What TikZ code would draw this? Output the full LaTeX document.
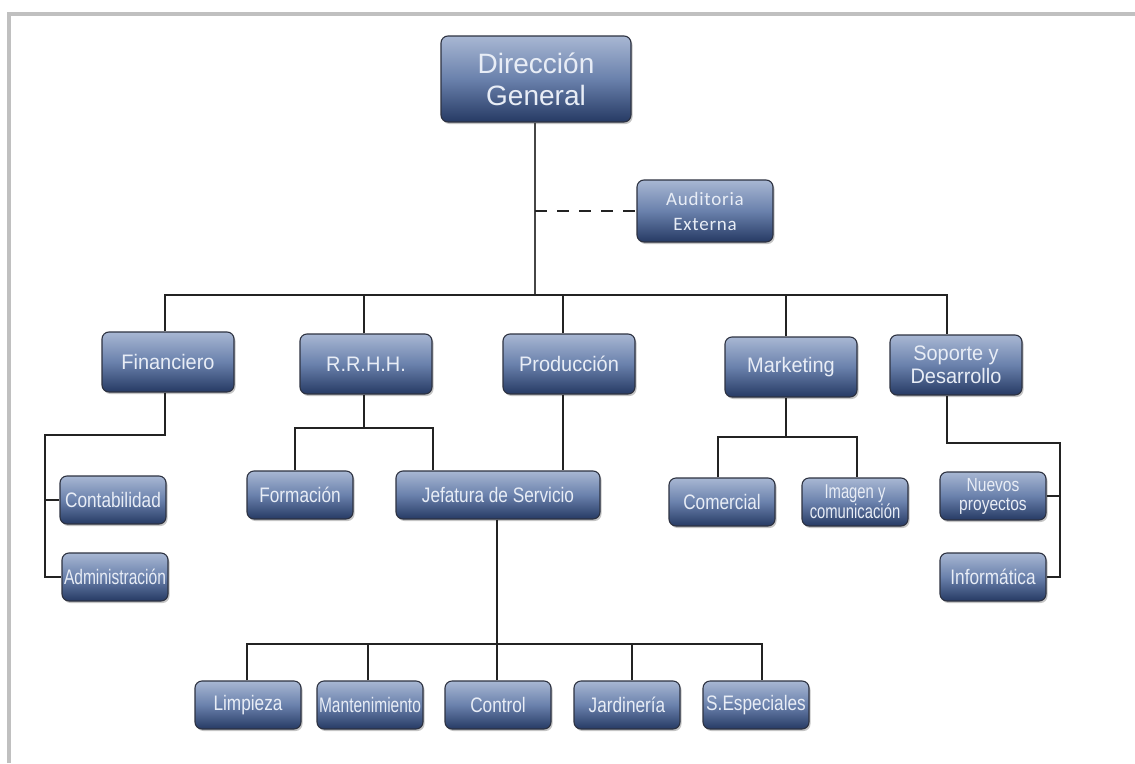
\documentclass[tikz,border=0pt]{standalone}
\usepackage{fontspec}
\setmainfont{Liberation Sans}
\newfontfamily\boxfont{Liberation Sans}
\newfontfamily\boxfontl[FakeStretch=0.95]{Liberation Sans}
\newfontfamily\boxfontn[FakeStretch=0.82]{Liberation Sans}
\newfontfamily\boxfontm[FakeStretch=0.74]{Liberation Sans}
\newfontfamily\audfont[LetterSpace=4]{Carlito}
\usetikzlibrary{shadows}
\definecolor{boxtop}{RGB}{168,183,211}
\definecolor{boxmid}{RGB}{106,129,172}
\definecolor{boxbot}{RGB}{38,58,100}
\definecolor{boxline}{RGB}{45,50,65}
\definecolor{boxtext}{RGB}{232,237,246}
\definecolor{linec}{RGB}{35,35,35}
\definecolor{trunkc}{RGB}{70,70,70}
\definecolor{framegray}{RGB}{192,192,192}
\begin{document}
\begin{tikzpicture}[x=1pt,y=-1pt,
  box/.style={rounded corners=7pt, draw=boxline, line width=1.1pt,
    top color=boxtop, bottom color=boxbot, middle color=boxmid,
    text=boxtext, align=center, inner sep=0pt,
    drop shadow={shadow xshift=1.5pt, shadow yshift=-2pt, opacity=0.45}},
  lvl/.style={box, minimum width=132pt, minimum height=60pt,
    font=\boxfontl\fontsize{21}{23}\selectfont},
  sub/.style={box, minimum width=106pt, minimum height=48pt,
    font=\boxfontn\fontsize{21}{21}\selectfont},
  subm/.style={sub, font=\boxfontm\fontsize{21}{21}\selectfont},
  conn/.style={draw=linec, line width=2pt},
  trunk/.style={draw=trunkc, line width=1.8pt},
  dashline/.style={draw=linec, line width=2pt, dash pattern=on 12pt off 10pt}]
\fill[white] (0,0) rectangle (1135,763);
\useasboundingbox (0,0) rectangle (1135,763);
\draw[framegray, line width=4pt] (1135,13.5) -- (9,13.5) -- (9,763);

% nodes
\node[box, minimum width=190pt, minimum height=86pt,
  font=\boxfont\fontsize{28}{32}\selectfont] (dg) at (536,79) {Dirección\\General};
\node[box, minimum width=136pt, minimum height=62pt,
  font=\audfont\fontsize{19}{25}\selectfont] (aud) at (705,211) {Auditoria\\Externa};

\node[lvl] (fin) at (168,362) {Financiero};
\node[lvl] (rrhh) at (366,364) {R.R.H.H.};
\node[lvl] (prod) at (569,364) {Producción};
\node[lvl] (mkt) at (791,367) {Marketing};
\node[lvl] (sop) at (956,365) {Soporte y\\Desarrollo};

\node[sub] (cont) at (113,500) {Contabilidad};
\node[subm] (adm) at (115,577) {Administración};
\node[sub] (form) at (300,495) {Formación};
\node[sub, minimum width=204pt] (jef) at (498,495) {Jefatura de Servicio};
\node[sub] (com) at (722,502) {Comercial};
\node[subm, font=\boxfontm\fontsize{20}{18}\selectfont] (img) at (855,502) {Imagen y\\comunicación};
\node[sub, font=\boxfontn\fontsize{19}{19}\selectfont] (nue) at (993,496) {Nuevos\\proyectos};
\node[sub] (inf) at (993,577) {Informática};

\node[sub] (lim) at (248,705) {Limpieza};
\node[subm] (man) at (370,705) {Mantenimiento};
\node[sub] (ctl) at (498,705) {Control};
\node[sub] (jar) at (627,705) {Jardinería};
\node[sub] (sesp) at (756,705) {S.Especiales};

% junction coordinates
\coordinate (tb) at (535,295);
\coordinate (fc) at (45,435);
\coordinate (rb) at (364,428);
\coordinate (bb) at (497,644);
\coordinate (mb) at (786,437);
\coordinate (sc) at (1060,443);

% connectors
\draw[trunk] (dg.south -| tb) -- (tb);
\draw[dashline] (aud.west -| tb) -- (aud.west);
\draw[conn] ([xshift=-3pt]fin.north) |- (tb) -| ([xshift=-9pt]sop.north);
\draw[conn] ([xshift=-2pt]rrhh.north) -- ([xshift=-2pt]rrhh.north |- tb);
\draw[conn] ([xshift=-6pt]prod.north) -- ([xshift=-6pt]prod.north |- tb);
\draw[conn] (mkt.north -| mb) -- (mb |- tb);

\draw[conn] ([xshift=-3pt]fin.south) |- (fc) |- (adm.west);
\draw[conn] (fc |- cont.west) -- (cont.west);

\draw[conn] (rrhh.south -| rb) -- (rb);
\draw[conn] ([xshift=-5pt]form.north) |- (rb) -| ([xshift=-65pt]jef.north);
\draw[conn] ([xshift=-6pt]prod.south) -- ([xshift=-6pt]prod.south |- jef.north);

\draw[conn] (jef.south -| bb) -- (bb);
\draw[conn] ([xshift=-1pt]lim.north) |- (bb) -| ([xshift=6pt]sesp.north);
\draw[conn] ([xshift=-2pt]man.north) -- ([xshift=-2pt]man.north |- bb);
\draw[conn] (ctl.north -| bb) -- (bb);
\draw[conn] ([xshift=5pt]jar.north) -- ([xshift=5pt]jar.north |- bb);

\draw[conn] (mkt.south -| mb) -- (mb);
\draw[conn] ([xshift=-4pt]com.north) |- (mb) -| ([xshift=2pt]img.north);

\draw[conn] ([xshift=-9pt]sop.south) |- (sc) |- (inf.east);
\draw[conn] (nue.east) -- (nue.east -| sc);
\end{tikzpicture}
\end{document}
